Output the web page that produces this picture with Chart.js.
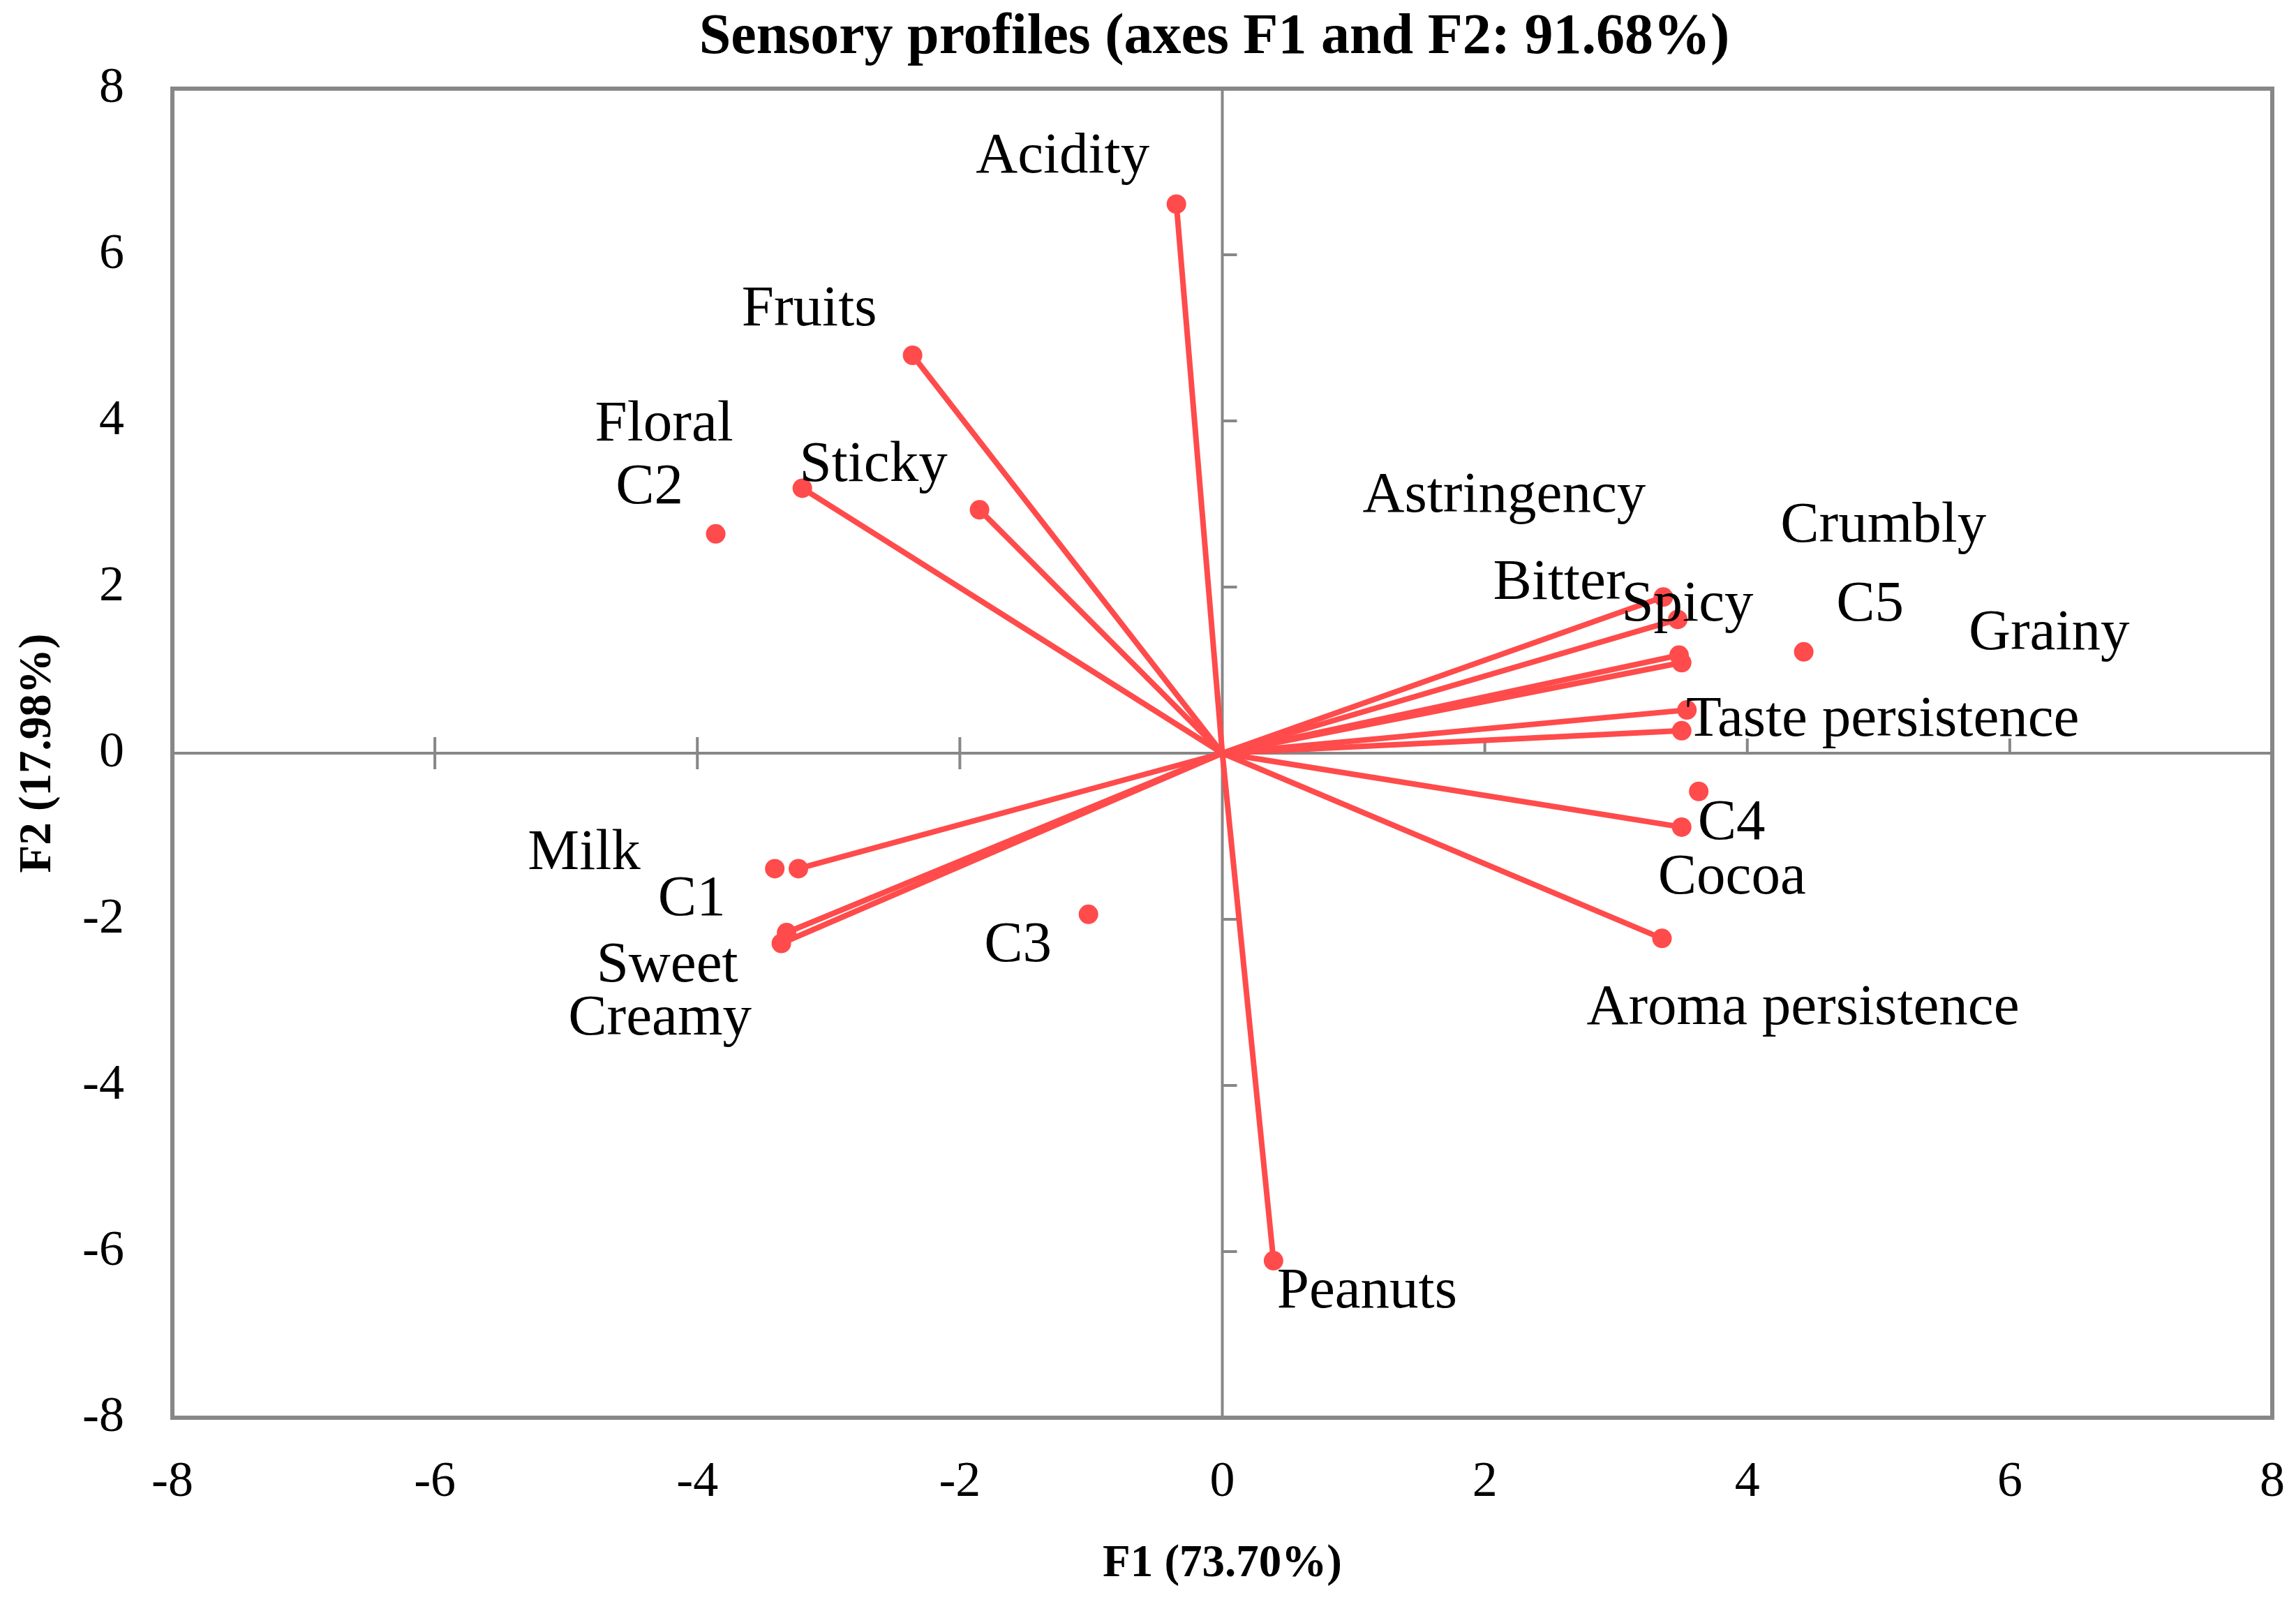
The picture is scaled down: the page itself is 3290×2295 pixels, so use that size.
<!DOCTYPE html>
<html>
<head>
<meta charset="utf-8">
<script src="https://cdn.jsdelivr.net/npm/chart.js@4/dist/chart.umd.min.js"></script>
<style>
  html, body { margin: 0; padding: 0; background: #fff; overflow: hidden; }
  #wrap { width: 3290px; height: 2295px; }
</style>
</head>
<body>
<div id="wrap"><canvas id="pca"></canvas></div>
<script>
// variables (drawn as vectors from the origin)
const varNames = ['Acidity', 'Fruits', 'Floral', 'Sticky', 'Milk', 'Sweet', 'Creamy', 'Peanuts',
  'Astringency', 'Bitter', 'Spicy', 'Crumbly', 'Grainy', 'Taste persistence', 'Cocoa', 'Aroma persistence'];
const varF1 = [-0.35, -2.36, -3.20, -1.85, -3.23, -3.32, -3.36, 0.39,
  3.36, 3.47, 3.48, 3.50, 3.54, 3.50, 3.50, 3.35];
const varF2 = [6.61, 4.79, 3.19, 2.93, -1.39, -2.16, -2.29, -6.11,
  1.88, 1.61, 1.18, 1.09, 0.52, 0.27, -0.89, -2.23];

// observations (points only)
const obsNames = ['C1', 'C2', 'C3', 'C4', 'C5'];
const obsF1 = [-3.41, -3.86, -1.02, 3.63, 4.43];
const obsF2 = [-1.39, 2.64, -1.94, -0.46, 1.22];

const axisTicks = [-8, -6, -4, -2, 0, 2, 4, 6, 8];

// label placement, pixel shift from the point
const varLabelShift = [[-163, -67], [-148, -65], [-198, -90], [-152, -63], [-307, -21], [-171, 48], [-174, 109], [134, 45],
  [-228, -144], [-170, -51], [12, -71], [289, -195], [519, -109], [288, -15], [72, 73], [202, 101]];
const obsLabelShift = [[-119, 45], [-95, -66], [-101, 45], [47, 46], [95, -67]];

const red = '#ff4b4b';
const grey = '#878787';
const serif = '"Liberation Serif", "Times New Roman", serif';

Chart.defaults.font.family = serif;
Chart.defaults.color = '#000';

const datasets = varNames.map((name, i) => ({
  label: name,
  data: [{ x: 0, y: 0 }, { x: varF1[i], y: varF2[i] }],
  showLine: true,
  borderColor: red,
  borderWidth: 8,
  backgroundColor: red,
  pointRadius: [0, 14],
  pointBorderWidth: 0
}));
datasets.push({
  label: 'Observations',
  data: obsF1.map((v, i) => ({ x: v, y: obsF2[i] })),
  showLine: false,
  backgroundColor: red,
  pointRadius: 14,
  pointBorderWidth: 0
});

const pcaDecor = {
  id: 'pcaDecor',
  beforeDatasetsDraw(chart) {
    const { ctx, chartArea: a, scales: { x, y } } = chart;
    const x0 = x.getPixelForValue(0);
    const y0 = y.getPixelForValue(0);
    ctx.save();
    ctx.strokeStyle = grey;
    ctx.lineWidth = 4;
    ctx.beginPath();
    ctx.moveTo(a.left, y0); ctx.lineTo(a.right, y0);
    ctx.moveTo(x0, a.top); ctx.lineTo(x0, a.bottom);
    axisTicks.forEach(v => {
      if (v === 0 || Math.abs(v) === 8) return;
      const px = x.getPixelForValue(v);
      if (v < 0) { ctx.moveTo(px, y0 - 23); ctx.lineTo(px, y0 + 23); }
      else { ctx.moveTo(px, y0 - 21); ctx.lineTo(px, y0); }
      const py = y.getPixelForValue(v);
      ctx.moveTo(x0, py); ctx.lineTo(x0 + 21, py);
    });
    ctx.stroke();
    ctx.lineWidth = 6;
    ctx.strokeRect(a.left, a.top, a.right - a.left, a.bottom - a.top);
    ctx.restore();
  },
  afterDatasetsDraw(chart) {
    const { ctx, scales: { x, y } } = chart;
    ctx.save();
    ctx.fillStyle = '#000';
    ctx.font = '83px ' + serif;
    ctx.textAlign = 'center';
    ctx.textBaseline = 'middle';
    varNames.forEach((n, i) => {
      const s = varLabelShift[i];
      ctx.fillText(n, x.getPixelForValue(varF1[i]) + s[0], y.getPixelForValue(varF2[i]) + s[1]);
    });
    obsNames.forEach((n, i) => {
      const s = obsLabelShift[i];
      ctx.fillText(n, x.getPixelForValue(obsF1[i]) + s[0], y.getPixelForValue(obsF2[i]) + s[1]);
    });
    ctx.restore();
  },
  afterDraw(chart) {
    const { ctx } = chart;
    ctx.save();
    ctx.fillStyle = '#000';
    ctx.font = 'bold 82px ' + serif;
    ctx.textAlign = 'center';
    ctx.textBaseline = 'middle';
    ctx.fillText('Sensory profiles (axes F1 and F2: 91.68%)', 1740, 55);
    ctx.restore();
  }
};

function axis(titleText, titlePad, tickPad, fit) {
  return {
    type: 'linear',
    min: -8,
    max: 8,
    afterBuildTicks: s => { s.ticks = axisTicks.map(v => ({ value: v })); },
    grid: { display: false, drawTicks: false },
    border: { display: false },
    ticks: { font: { size: 72 }, color: '#000', padding: tickPad, autoSkip: false, maxRotation: 0,
      callback: v => String(v) },
    title: { display: true, text: titleText, color: '#000', font: { size: 65, weight: 'bold' }, padding: titlePad },
    afterFit: s => {
      fit(s);
      s.paddingLeft = 0; s.paddingRight = 0; s.paddingTop = 0; s.paddingBottom = 0;
    }
  };
}

new Chart(document.getElementById('pca'), {
  type: 'scatter',
  data: { datasets },
  options: {
    responsive: true,
    maintainAspectRatio: false,
    devicePixelRatio: 1,
    animation: false,
    layout: { padding: { top: 127, right: 34, bottom: 0, left: 0 } },
    plugins: { legend: { display: false }, tooltip: { enabled: false } },
    scales: {
      x: axis('F1 (73.70%)', { top: 0, bottom: 15 }, 50, s => { s.height = 264; }),
      y: axis('F2 (17.98%)', { top: 16, bottom: 0 }, 69, s => { s.width = 247; })
    }
  },
  plugins: [pcaDecor]
});
</script>
</body>
</html>
